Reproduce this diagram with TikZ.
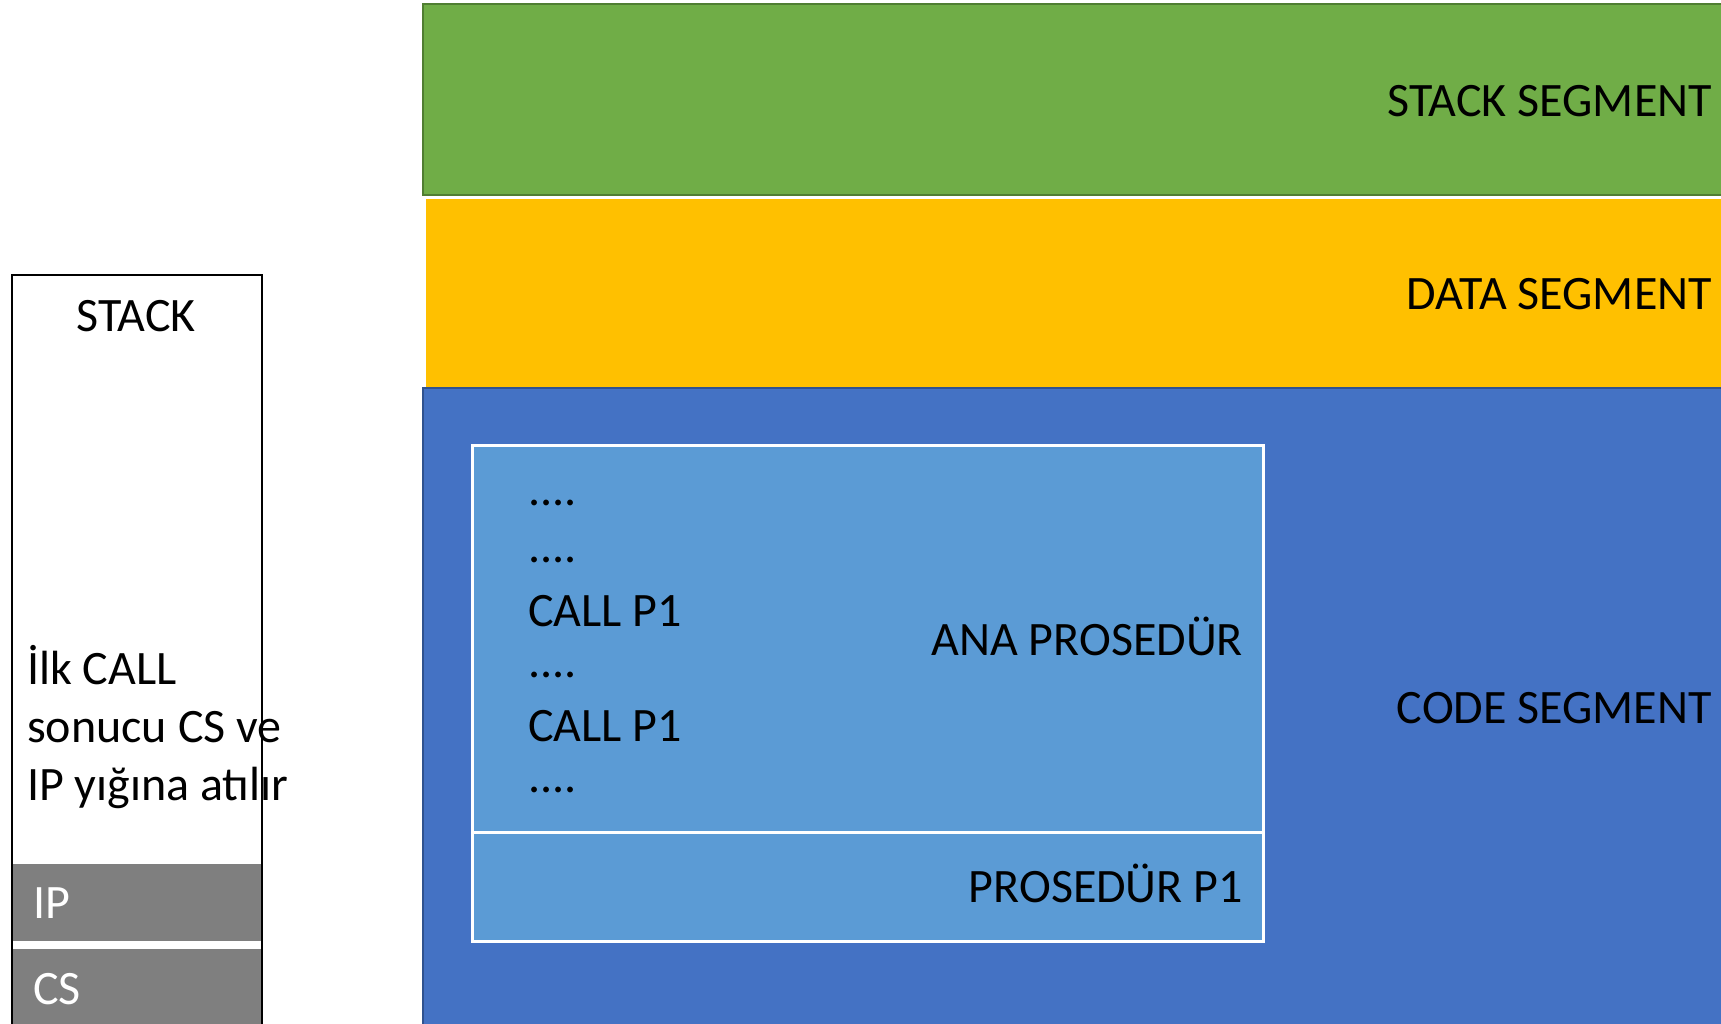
\documentclass[tikz,border=0pt]{standalone}
\usepackage{fontspec}
\setmainfont{Carlito}
\definecolor{stackgreen}{HTML}{70AD47}
\definecolor{stackgreenedge}{HTML}{507E32}
\definecolor{datayellow}{HTML}{FFC000}
\definecolor{codeblue}{HTML}{4472C4}
\definecolor{codeblueedge}{HTML}{2F528F}
\definecolor{procblue}{HTML}{5B9BD5}
\definecolor{stackgray}{HTML}{7F7F7F}
\tikzset{
  bigtext/.style={inner sep=0pt,font=\fontsize{48}{58}\selectfont},
  seglabel/.style={bigtext,anchor=base east},
  codeline/.style={bigtext,anchor=base west},
  procbox/.style={fill=procblue,draw=white,line width=3pt},
}
\begin{document}
\begin{tikzpicture}[x=1pt,y=-1pt]
\clip (0,0) rectangle (1721,1024);
\fill[white] (0,0) rectangle (1721,1024);
\draw[fill=stackgreen,draw=stackgreenedge,line width=2pt] (423,4) rectangle (1730,195);
\fill[datayellow] (426,199) rectangle (1730,387);
\draw[fill=codeblue,draw=codeblueedge,line width=2pt] (423,388) rectangle (1730,1030);
\draw[procbox] (472,445) rectangle (1263,832);
\draw[procbox] (472,832) rectangle (1263,941);
\node[seglabel] (stackseg) at (1712,117) {STACK SEGMENT};
\node[seglabel] (dataseg) at (1712,309) {DATA SEGMENT};
\node[seglabel] (codeseg) at (1712,723) {CODE SEGMENT};
\node[seglabel] (anaproc) at (1243,655) {ANA PROSEDÜR};
\node[seglabel] (p1proc) at (1243,902) {PROSEDÜR P1};
\node[codeline] (line1) at (528,505) {....};
\node[codeline] (line2) at (528,562) {....};
\node[codeline] (line3) at (528,626) {CALL P1};
\node[codeline] (line4) at (528,677) {....};
\node[codeline] (line5) at (528,741) {CALL P1};
\node[codeline] (line6) at (528,792) {....};
\fill[white] (12,275) rectangle (262,1030);
\fill[stackgray] (12,864) rectangle (262,941);
\fill[stackgray] (12,949) rectangle (262,1030);
\node[bigtext,anchor=base] (stacktitle) at (136,331) {STACK};
\node[codeline] (note1) at (27,684) {İlk CALL};
\node[codeline] (note2) at (27,742) {sonucu CS ve};
\node[codeline] (note3) at (27,800) {IP yığına atılır};
\node[codeline,text=white] (ipslot) at (33,918) {IP};
\node[codeline,text=white] (csslot) at (33,1004) {CS};
\draw[line width=2pt] (12,1030) -- (12,275) -- (262,275) -- (262,1030);
\end{tikzpicture}
\end{document}
